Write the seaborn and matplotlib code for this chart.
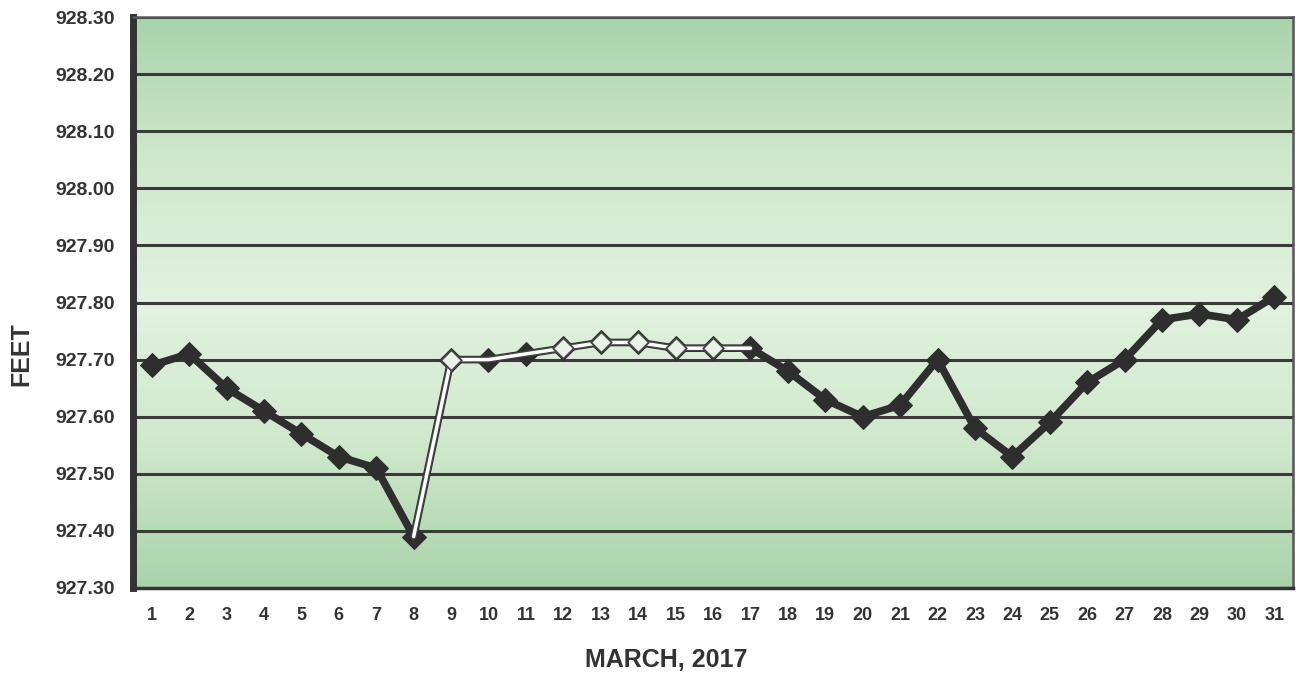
import numpy as np
import pandas as pd
import seaborn as sns
import matplotlib.pyplot as plt
import matplotlib.patheffects as pe
from matplotlib.colors import LinearSegmentedColormap

days = list(range(1, 32))
elevation = [927.69, 927.71, 927.65, 927.61, 927.57, 927.53, 927.51, 927.39,
             927.70, 927.70, 927.71, 927.72, 927.73, 927.73, 927.72, 927.72,
             927.72, 927.68, 927.63, 927.60, 927.62, 927.70, 927.58, 927.53,
             927.59, 927.66, 927.70, 927.77, 927.78, 927.77, 927.81]
y_ticks = [927.30, 927.40, 927.50, 927.60, 927.70, 927.80, 927.90,
           928.00, 928.10, 928.20, 928.30]
pale_days = [9, 12, 13, 14, 15, 16]

df = pd.DataFrame({'day': days, 'feet': elevation})
# the pale stretch of the line in the scan runs from day 8 to day 17
df_pale = df[(df['day'] >= 8) & (df['day'] <= 17)]
df_pale_pts = df[df['day'].isin(pale_days)]

sns.set_style('white')
plt.rcParams['font.family'] = ['Liberation Sans', 'DejaVu Sans']

fig = plt.figure(figsize=(13.02, 6.77), dpi=100)
ax = fig.add_axes([133 / 1302, 1 - 588 / 677, 1160 / 1302, 571 / 677])

# green background, darker at top and bottom
grad = LinearSegmentedColormap.from_list('bg', ['#a9d3a9', '#cfe8cc', '#e2f2df', '#cfe8cc', '#a9d3a9'])
ax.imshow(np.linspace(0, 1, 256).reshape(-1, 1), cmap=grad, aspect='auto',
          extent=[0, 1, 0, 1], transform=ax.transAxes, zorder=0)

for yv in y_ticks:
    ax.axhline(yv, color='#3a3a3a', lw=2.2, zorder=1)

sns.lineplot(data=df, x='day', y='feet', ax=ax, color='#2e2e2e', lw=5.5,
             marker='D', markersize=12, markeredgecolor='#2e2e2e', zorder=3)
sns.lineplot(data=df_pale, x='day', y='feet', ax=ax, color='white', lw=2.5,
             zorder=4, path_effects=[pe.Stroke(linewidth=4.5, foreground='#444444'), pe.Normal()])
sns.scatterplot(data=df_pale_pts, x='day', y='feet', ax=ax, marker='D', s=110,
                color='#e8f2e6', edgecolor='#444444', linewidth=1.3, zorder=5)

ax.set_xlim(0.5, 31.5)
ax.set_ylim(927.30, 928.30)
ax.set_yticks(y_ticks)
ax.set_yticklabels([f'{v:.2f}' for v in y_ticks], fontsize=14, fontweight='bold', color='#333333')
ax.set_xticks(days)
ax.set_xticklabels([str(d) for d in days], fontsize=13, fontweight='bold', color='#333333')
ax.set_xticks(np.arange(0.5, 32, 1), minor=True)
ax.tick_params(axis='x', which='major', length=0, pad=14)
ax.tick_params(axis='x', which='minor', length=6, width=1.8, color='#333333', direction='out')
ax.tick_params(axis='y', length=7, width=1.8, color='#333333', direction='out', pad=6)

ax.spines['left'].set_linewidth(5)
ax.spines['left'].set_color('#333333')
ax.spines['bottom'].set_linewidth(2.5)
ax.spines['bottom'].set_color('#333333')
for side in ['right', 'top']:
    ax.spines[side].set_linewidth(1.8)
    ax.spines[side].set_color('#555555')

ax.set_xlabel('MARCH, 2017', fontsize=18, fontweight='heavy', color='#333333', va='center')
ax.xaxis.set_label_coords(0.46, -0.126)
ax.set_ylabel('FEET', fontsize=18, fontweight='heavy', color='#333333', va='center')
ax.yaxis.set_label_coords(-0.096, 0.41)

plt.savefig('out.png', dpi=100)
